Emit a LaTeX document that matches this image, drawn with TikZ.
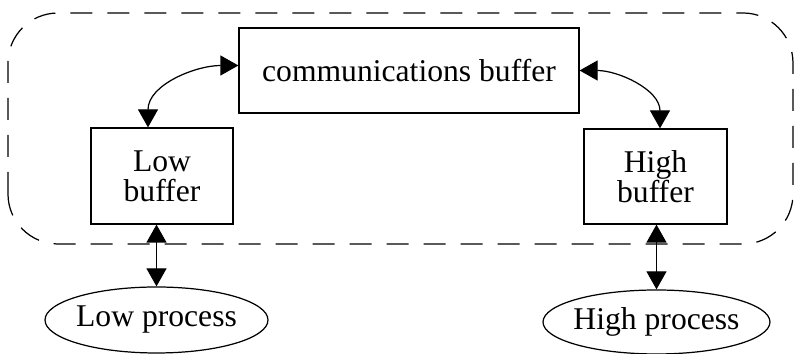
\documentclass[tikz,border=0pt]{standalone}
\usepackage{fontspec}
\setmainfont{Liberation Serif}
\usetikzlibrary{arrows.meta,shapes.geometric}

\begin{document}
\begin{tikzpicture}[line width=0.7pt,
  font=\fontsize{18}{17}\selectfont,
  buf/.style={draw,rectangle,align=center,inner sep=0pt},
  proc/.style={draw,ellipse,inner ysep=0pt,inner xsep=-0.12cm},
  link/.style={{Triangle[length=0.36cm,width=0.4cm]}-{Triangle[length=0.36cm,width=0.4cm]}}]
\useasboundingbox (0,0) rectangle (15.92,7.08);
\draw[dash pattern=on 0.44cm off 0.3cm,rounded corners=1cm] (0.16,2.2) rectangle (15.86,6.82);
\node [buf,minimum width=6.8cm,minimum height=1.7cm] (comm) at (8.18,5.67) {communications buffer};
\node [buf,minimum width=2.84cm,minimum height=1.92cm] (low) at (3.24,3.56) {Low\\buffer};
\node [buf,minimum width=2.86cm,minimum height=1.9cm] (high) at (13.11,3.55) {High\\buffer};
\node [proc,minimum width=4.46cm,minimum height=1.32cm] (lowp) at (3.13,0.68) {Low process};
\node [proc,minimum width=4.54cm,minimum height=1.28cm] (highp) at (13.13,0.64) {High process};
\draw[link] ([xshift=-0.28cm]low.north) to[out=90,in=180] ([yshift=0.1cm]comm.west);
\draw[link] (comm.east) to[out=0,in=90] ([xshift=0.09cm]high.north);
\draw[link] (lowp.north) -- (lowp.north |- low.south);
\draw[link] (highp.north) -- (highp.north |- high.south);
\end{tikzpicture}
\end{document}
